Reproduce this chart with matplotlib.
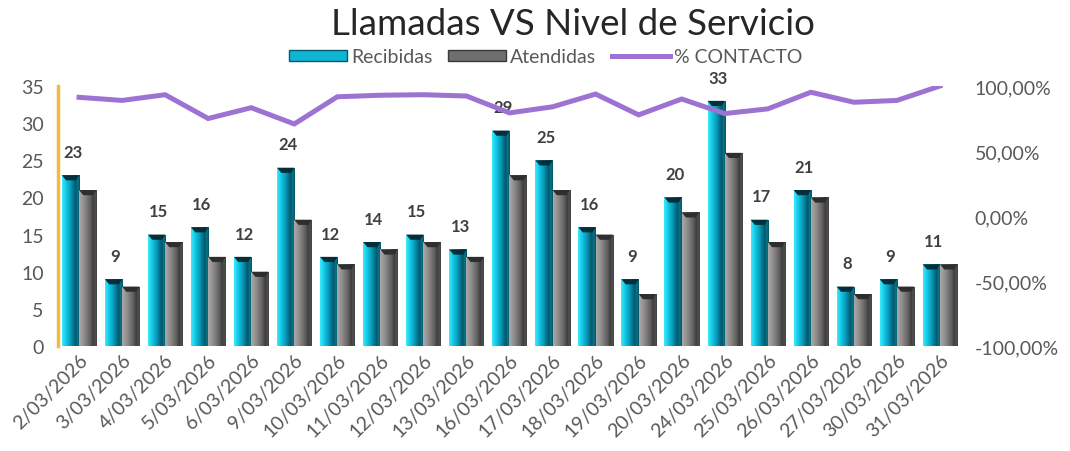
import numpy as np
import matplotlib
matplotlib.use('Agg')
import matplotlib.pyplot as plt
import matplotlib.transforms as mtransforms
from matplotlib.colors import LinearSegmentedColormap
from matplotlib.patches import Patch, Polygon
from matplotlib.lines import Line2D
from matplotlib.ticker import FuncFormatter

plt.rcParams['font.family'] = ['Lato', 'DejaVu Sans']

fechas = ['2/03/2026', '3/03/2026', '4/03/2026', '5/03/2026', '6/03/2026', '9/03/2026',
          '10/03/2026', '11/03/2026', '12/03/2026', '13/03/2026', '16/03/2026', '17/03/2026',
          '18/03/2026', '19/03/2026', '20/03/2026', '24/03/2026', '25/03/2026', '26/03/2026',
          '27/03/2026', '30/03/2026', '31/03/2026']
recibidas = [23, 9, 15, 16, 12, 24, 12, 14, 15, 13, 29, 25, 16, 9, 20, 33, 17, 21, 8, 9, 11]
atendidas = [21, 8, 14, 12, 10, 17, 11, 13, 14, 12, 23, 21, 15, 7, 18, 26, 14, 20, 7, 8, 11]
# % contacto (0-100)
contacto = [91.3, 88.9, 93.3, 75.0, 83.3, 70.8, 91.7, 92.9, 93.3, 92.3, 79.3,
            84.0, 93.8, 77.8, 90.0, 78.8, 82.4, 95.2, 87.5, 88.9, 100.0]

gris_txt = '#595959'
morado = '#9D72D2'

cmap_cyan = LinearSegmentedColormap.from_list('cyan', [
    (0.0, '#3FEAFC'), (0.2, '#14CDEB'), (0.5, '#0796B6'),
    (0.78, '#035466'), (0.88, '#0A7A92'), (1.0, '#04505F')])
cmap_gris = LinearSegmentedColormap.from_list('gris', [
    (0.0, '#A9A9A9'), (0.3, '#8E8A8A'), (0.65, '#5E5C5C'),
    (0.82, '#3A3A3A'), (0.9, '#555555'), (1.0, '#3E3E3E')])


def pintar(ax, barras, cmap, tapa):
    grad = np.linspace(0, 1, 64).reshape(1, -1)
    for b in barras:
        x0, w, h = b.get_x(), b.get_width(), b.get_height()
        im = ax.imshow(grad, cmap=cmap, extent=[x0, x0 + w, 0, h], aspect='auto',
                       interpolation='bicubic', zorder=2)
        im.set_clip_path(b)
        d = 0.7
        ax.add_patch(Polygon([(x0, h), (x0 + w, h), (x0 + w * 0.82, h - d), (x0 + w * 0.25, h - d)],
                             closed=True, facecolor=tapa, edgecolor='none', zorder=3))


fig = plt.figure(figsize=(10.7, 4.52), dpi=100)
ax = fig.add_axes([57.5 / 1070, 105 / 452, 904 / 1070, 260 / 452])
x = np.arange(len(fechas))
w = 0.4

b1 = ax.bar(x - w / 2, recibidas, w, facecolor='none', edgecolor='none', zorder=2)
b2 = ax.bar(x + w / 2, atendidas, w, facecolor='none', edgecolor='none', zorder=2)
pintar(ax, b1, cmap_cyan, '#022F3A')
pintar(ax, b2, cmap_gris, '#2E2E2E')

for xi, v in zip(x, recibidas):
    ax.annotate(str(v), (xi - w / 2 + 0.05, v), xytext=(0, 11), textcoords='offset points',
                ha='center', va='bottom', fontsize=12, fontweight='bold', color='#404040')

ax.set_xlim(-0.5, len(fechas) - 0.5)
ax.set_ylim(0, 35)
ax.set_yticks(range(0, 36, 5))
ax.set_xticks(x)
ax.set_xticklabels(fechas, rotation=45, ha='right', va='top', rotation_mode='anchor',
                   fontsize=14, color=gris_txt)
off = mtransforms.ScaledTranslation(3 / 100, -17 / 100, fig.dpi_scale_trans)
for lab in ax.get_xticklabels():
    lab.set_transform(lab.get_transform() + off)
ax.tick_params(axis='both', length=0)
ax.tick_params(axis='y', labelsize=14, labelcolor=gris_txt, pad=10)
for s in ['top', 'right', 'bottom']:
    ax.spines[s].set_visible(False)
ax.spines['left'].set_color('#F5B942')
ax.spines['left'].set_linewidth(2.5)

ax2 = ax.twinx()
ax2.plot(x, np.array(contacto) / 100, color=morado, lw=3.6, solid_joinstyle='miter', zorder=4)
ax2.set_ylim(-1, 1)
ax2.set_yticks([-1, -0.5, 0, 0.5, 1])
ax2.yaxis.set_major_formatter(FuncFormatter(lambda v, p: f'{v * 100:.2f}%'.replace('.', ',')))
ax2.tick_params(axis='y', length=0, labelsize=14, labelcolor=gris_txt, pad=9.5)
for s in ax2.spines.values():
    s.set_visible(False)

fig.text(0.535, 0.945, 'Llamadas VS Nivel de Servicio', ha='center', va='center',
         fontsize=26.5, color='#262626')

handles = [Patch(facecolor='#0FB5D5', edgecolor='#03586A'),
           Patch(facecolor='#6E6E6E', edgecolor='#3A3A3A'),
           Line2D([0], [0], color=morado, lw=3.6)]
fig.legend(handles, ['Recibidas', 'Atendidas', '% CONTACTO'], loc='center',
           bbox_to_anchor=(0.51, 0.872), ncol=3, frameon=False, fontsize=14,
           labelcolor=gris_txt, handlelength=3.0, handleheight=0.55,
           handletextpad=0.2, columnspacing=0.8)

fig.savefig('out.png', dpi=100)
